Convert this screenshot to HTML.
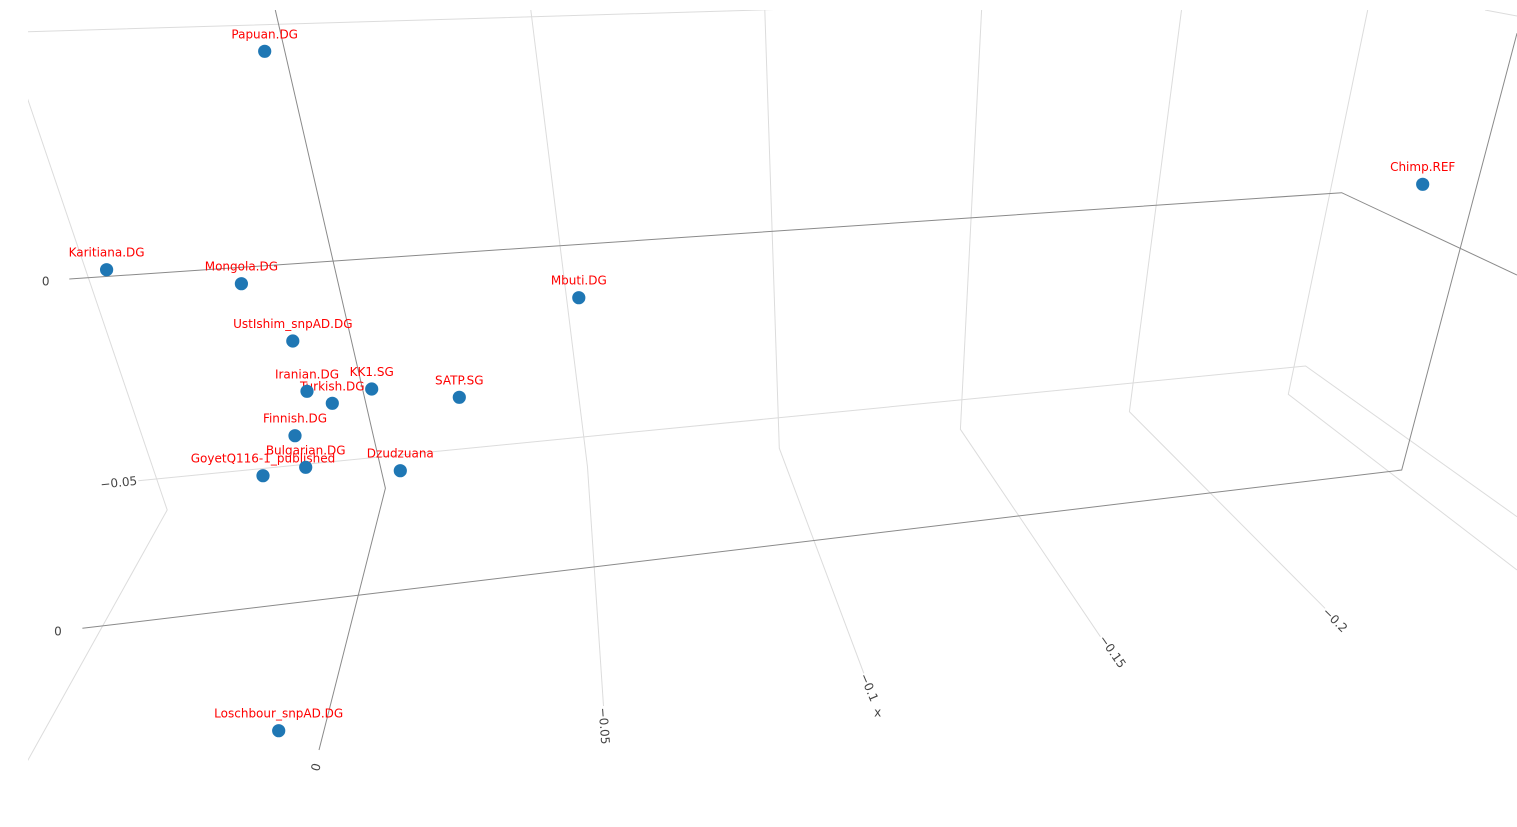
<!DOCTYPE html>
<html>
<head>
<meta charset="utf-8">
<style>
  html, body { margin: 0; padding: 0; background: #ffffff; }
  body { width: 1517px; height: 827px; overflow: hidden; }
  svg { display: block; }
  .lab { font-family: "DejaVu Sans", "Liberation Sans", sans-serif; font-size: 12px; fill: #ff0000; text-anchor: middle; }
  .tick { font-family: "DejaVu Sans", "Liberation Sans", sans-serif; font-size: 12px; fill: #444444; text-anchor: middle; dominant-baseline: central; }
</style>
</head>
<body>
<svg width="1517" height="827" viewBox="0 0 1517 827" xmlns="http://www.w3.org/2000/svg">
  <defs>
    <clipPath id="sc"><rect x="28" y="10" width="1489" height="817"/></clipPath>
  </defs>
  <g clip-path="url(#sc)" fill="none" stroke-width="1">
    <!-- light grid lines -->
    <g stroke="#dcdcdc">
      <polyline points="28,31.7 760,10 900,5"/>
      <polyline points="10,47 28,100 167.2,510 28,760 10,792"/>
      <polyline points="138.2,480.7 1305.6,366 1517,516.7"/>
      <polyline points="530.8,10 587.5,467 603.5,706"/>
      <polyline points="764.8,10 779.3,448.3 863.8,673.3"/>
      <polyline points="981.6,10 960.4,429.3 1100.4,636.7"/>
      <polyline points="1181.5,10 1129.4,411.7 1325,608.3"/>
      <polyline points="1367.7,10 1288.3,394.3 1517,570"/>
      <polyline points="1485,10 1517,16"/>
    </g>
    <!-- dark axis lines -->
    <g stroke="#8a8a8a">
      <polyline points="275.3,10 385.4,488.3 319,750"/>
      <polyline points="69.3,279 1341.7,192.7 1517,275"/>
      <polyline points="82.4,628.3 1401.7,470 1517,33.3"/>
    </g>
  </g>

  <!-- tick labels -->
  <text class="tick" x="45.7" y="281.6">0</text>
  <text class="tick" transform="translate(118.8,482.7) rotate(-6)">−0.05</text>
  <text class="tick" x="58" y="631.7">0</text>

  <text class="tick" transform="translate(315.3,767) rotate(104)">0</text>
  <text class="tick" transform="translate(604,726) rotate(86)">−0.05</text>
  <text class="tick" transform="translate(869,687.5) rotate(67)">−0.1</text>
  <text class="tick" transform="translate(1112.5,651.7) rotate(55)">−0.15</text>
  <text class="tick" transform="translate(1335,620) rotate(45)">−0.2</text>
  <text class="tick" x="877.7" y="712.3">x</text>

  <!-- point labels -->
  <g class="labs">
    <text class="lab" x="264.7" y="38.3">Papuan.DG</text>
    <text class="lab" x="106.6" y="256.7">Karitiana.DG</text>
    <text class="lab" x="241.4" y="270.7">Mongola.DG</text>
    <text class="lab" x="578.8" y="284.7">Mbuti.DG</text>
    <text class="lab" x="292.8" y="328">UstIshim_snpAD.DG</text>
    <text class="lab" x="307" y="378.3">Iranian.DG</text>
    <text class="lab" x="371.7" y="376">KK1.SG</text>
    <text class="lab" x="332.3" y="390.3">Turkish.DG</text>
    <text class="lab" x="459.3" y="384.3">SATP.SG</text>
    <text class="lab" x="295" y="422.7">Finnish.DG</text>
    <text class="lab" x="305.7" y="454.3">Bulgarian.DG</text>
    <text class="lab" x="263" y="462.7">GoyetQ116-1_published</text>
    <text class="lab" x="400.3" y="457.7">Dzudzuana</text>
    <text class="lab" x="278.7" y="717.7">Loschbour_snpAD.DG</text>
    <text class="lab" x="1422.7" y="170.8">Chimp.REF</text>
  </g>

  <!-- markers -->
  <g fill="#1f77b4">
    <circle cx="264.7" cy="51.3" r="6.6"/>
    <circle cx="106.6" cy="269.7" r="6.6"/>
    <circle cx="241.4" cy="283.7" r="6.6"/>
    <circle cx="578.8" cy="297.7" r="6.6"/>
    <circle cx="292.8" cy="341" r="6.6"/>
    <circle cx="307" cy="391.3" r="6.6"/>
    <circle cx="371.7" cy="389" r="6.6"/>
    <circle cx="332.3" cy="403.3" r="6.6"/>
    <circle cx="459.3" cy="397.3" r="6.6"/>
    <circle cx="295" cy="435.7" r="6.6"/>
    <circle cx="305.7" cy="467.3" r="6.6"/>
    <circle cx="263" cy="475.7" r="6.6"/>
    <circle cx="400.3" cy="470.7" r="6.6"/>
    <circle cx="278.7" cy="730.7" r="6.6"/>
    <circle cx="1422.7" cy="184.3" r="6.6"/>
  </g>
</svg>
</body>
</html>
